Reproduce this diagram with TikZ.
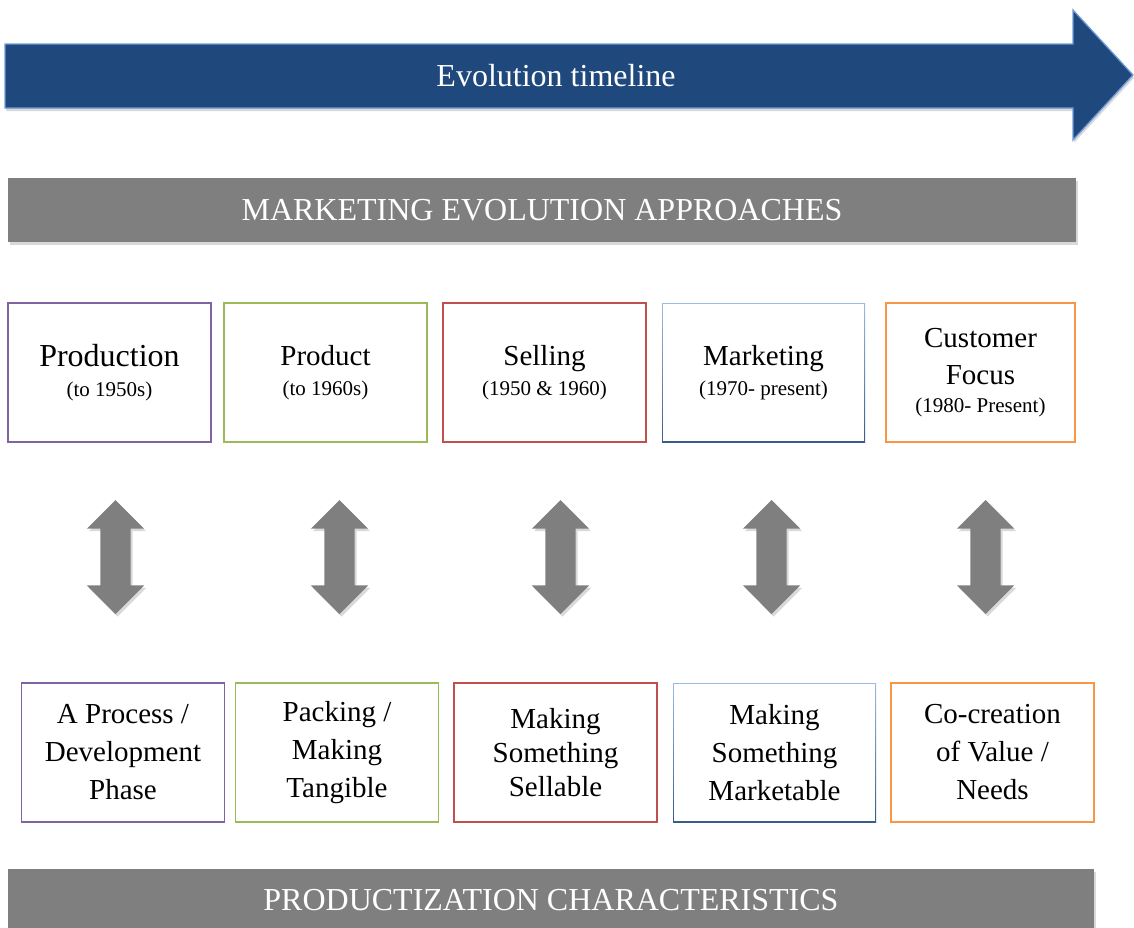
\documentclass[tikz,border=0pt]{standalone}
\usepackage{fontspec}
\setmainfont{Liberation Serif}
\usetikzlibrary{shapes.arrows}
\usetikzlibrary{shadows}
\definecolor{mpurple}{HTML}{8064A2}
\definecolor{mgreen}{HTML}{9BBB59}
\definecolor{mred}{HTML}{C0504D}
\definecolor{morange}{HTML}{F79646}
\definecolor{mnavy}{HTML}{1F497D}
\definecolor{mline}{HTML}{6F9BD6}
\definecolor{mgray}{HTML}{7F7F7F}
\definecolor{mbluetop}{HTML}{9DBBE0}
\definecolor{mbluebot}{HTML}{385D8A}
\newcommand{\subfont}{\fontsize{21}{26}\selectfont}
\tikzset{banner/.style = {fill=mgray, text=white, inner sep=0, font=\fontsize{32}{38}\selectfont,
    drop shadow={shadow xshift=1.5pt, shadow yshift=-2.5pt, opacity=0.3}}}
\tikzset{era/.style = {draw, line width=1.3pt, fill=white, inner sep=0, minimum width=203pt,
    minimum height=139pt, align=center, font=\fontsize{29}{38}\selectfont}}
\tikzset{bluebox/.style = {draw=none, top color=mbluetop, bottom color=mbluebot,
    path picture={\fill[white] ([shift={(1.3pt,-1.3pt)}]path picture bounding box.north west)
      rectangle ([shift={(-1.3pt,1.3pt)}]path picture bounding box.south east);}}}
\tikzset{bothways/.style = {double arrow, rotate=90, fill=mgray, inner sep=0,
    minimum height=114pt, minimum width=57pt, double arrow head extend=13.5pt,
    double arrow tip angle=90,
    drop shadow={shadow xshift=2pt, shadow yshift=-2.5pt, opacity=0.3}}}

\begin{document}
\begin{tikzpicture}[x=1pt, y=-1pt]
      \useasboundingbox (0,0) rectangle (1134,927);

      \draw [line width=1.3pt, draw=mline, fill=mnavy,
        drop shadow={shadow xshift=1pt, shadow yshift=-3pt, opacity=0.3}]
        (5,44) -- (1073,44) -- (1073,10) -- (1133,75) -- (1073,140) -- (1073,108) -- (5,108) -- cycle;
      \node [text=white, font=\fontsize{32}{38}\selectfont] (timeline) at (556,76) {Evolution timeline};

      \node [banner, minimum width=1068pt, minimum height=64pt] (approaches) at (542,210)
        {MARKETING EVOLUTION APPROACHES};

      \node [era, draw=mpurple] (production) at (109.5,372.5)
        {{\fontsize{32}{37}\selectfont Production}\\[-8pt]{\subfont (to 1950s)}};
      \node [era, draw=mgreen] (product) at (325.5,372.5)
        {Product\\[-8pt]{\subfont (to 1960s)}};
      \node [era, draw=mred] (selling) at (544.5,372.5)
        {Selling\\[-8pt]{\subfont (1950 \& 1960)}};
      \node [era, bluebox] (marketing) at (763.5,372.5)
        {Marketing\\[-8pt]{\subfont (1970- present)}};
      \node [era, draw=morange, minimum width=189pt] (customer) at (980.5,372.5)
        {Customer\\[-1pt]Focus\\[-10pt]{\subfont (1980- Present)}};

      \foreach \x [count=\i] in {115.5,339.5,560.5,771.5,985.5} {
        \node [bothways] (link\i) at (\x,557) {\rule{0pt}{30pt}};
      }

      \node [era, draw=mpurple] (process) at (123,752.5)
        {A Process /\\Development\\Phase};
      \node [era, draw=mgreen] (packing) at (337,752.5)
        {Packing /\\Making\\Tangible};
      \node [era, draw=mred] (sellable) at (555.5,752.5)
        {Making\\[-4pt]Something\\[-4pt]Sellable};
      \node [era, bluebox] (marketable) at (774.5,752.5)
        {Making\\Something\\Marketable};
      \node [era, draw=morange] (cocreation) at (992.5,752.5)
        {Co-creation\\of Value /\\Needs};

      \node [banner, minimum width=1086pt, minimum height=62pt] (traits) at (551,900)
        {PRODUCTIZATION CHARACTERISTICS};
    \end{tikzpicture}
\end{document}
